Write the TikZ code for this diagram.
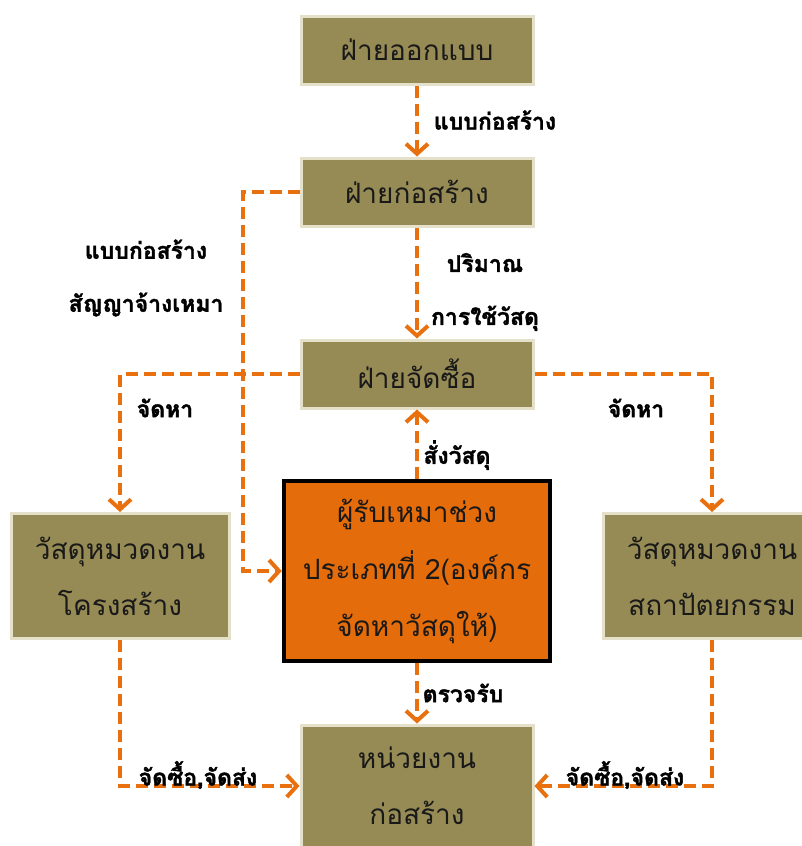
\documentclass[tikz,border=0pt]{standalone}
\usepackage{fontspec}
\newfontfamily\thaifont[Script=Thai, BoldFeatures={FakeBold=1.5}]{Loma}
\usetikzlibrary{arrows.meta,positioning}
\definecolor{olivefill}{HTML}{968B55}
\definecolor{oliveedge}{HTML}{E4E0C9}
\definecolor{floworange}{HTML}{E8700F}
\definecolor{subfill}{HTML}{E46C0A}
\tikzset{
  deptbox/.style={draw=oliveedge, line width=3pt, fill=olivefill, text=black!90, align=center, inner sep=0pt,
    minimum width=232, minimum height=68, font=\thaifont\fontsize{28}{56}\selectfont},
  subbox/.style={draw=black, line width=4.5pt, fill=subfill, text=black!90, align=center, inner sep=0pt,
    minimum width=266, minimum height=180, font=\thaifont\fontsize{28}{57}\selectfont},
  flow/.style={floworange, line width=4pt, dash pattern=on 12pt off 6pt, -{Straight Barb[length=10pt,width=22pt,line width=4pt]}},
  flowlabel/.style={align=center, inner sep=0pt, font=\thaifont\bfseries\fontsize{23}{53}\selectfont}
}
\begin{document}
\begin{tikzpicture}[x=1pt, y=-1pt]
  \useasboundingbox[fill=white] (0,0) rectangle (801,846);
  % boxes
  \node[deptbox] (design) at (417,50) {ฝ่ายออกแบบ};
  \node[deptbox] (build) at (417,192) {ฝ่ายก่อสร้าง};
  \node[deptbox] (buy) at (417,374) {ฝ่ายจัดซื้อ};
  \node[deptbox, minimum width=218, minimum height=125] (struct) at (120,576) {วัสดุหมวดงาน\\โครงสร้าง};
  \node[deptbox, minimum width=218, minimum height=125] (arch) at (712,576) {วัสดุหมวดงาน\\สถาปัตยกรรม};
  \node[subbox] (sub) at (417,571) {ผู้รับเหมาช่วง\\ประเภทที่ 2(องค์กร\\จัดหาวัสดุให้)};
  \node[deptbox, minimum height=122] (site) at (417,786) {หน่วยงาน\\ก่อสร้าง};
  % connectors
  \draw[flow] (design.south) -- (build.north);
  \draw[flow] (build.south) -- (buy.north);
  \draw[flow] (build.west) -- ++(-57,0) |- (sub.west);
  \draw[flow] (buy.west) -| (struct.north);
  \draw[flow] (buy.east) -| (arch.north);
  \draw[flow] (sub.north) -- (buy.south);
  \draw[flow] (sub.south) -- (site.north);
  \draw[flow] (struct.south) |- (site.west);
  \draw[flow] (arch.south) |- (site.east);
  % labels
  \node[flowlabel] (lbldesign) at (495,120) {แบบก่อสร้าง};
  \node[flowlabel] (lblqty) at (485,292) {ปริมาณ\\การใช้วัสดุ};
  \node[flowlabel] (lblcontract) at (146,278) {แบบก่อสร้าง\\สัญญาจ้างเหมา};
  \node[flowlabel] (lblfindl) at (165,408) {จัดหา};
  \node[flowlabel] (lblfindr) at (636,408) {จัดหา};
  \node[flowlabel] (lblorder) at (457,455) {สั่งวัสดุ};
  \node[flowlabel] (lblcheck) at (463,693) {ตรวจรับ};
  \node[flowlabel] (lblshipl) at (198,775) {จัดซื้อ,จัดส่ง};
  \node[flowlabel] (lblshipr) at (625,775) {จัดซื้อ,จัดส่ง};
\end{tikzpicture}
\end{document}
